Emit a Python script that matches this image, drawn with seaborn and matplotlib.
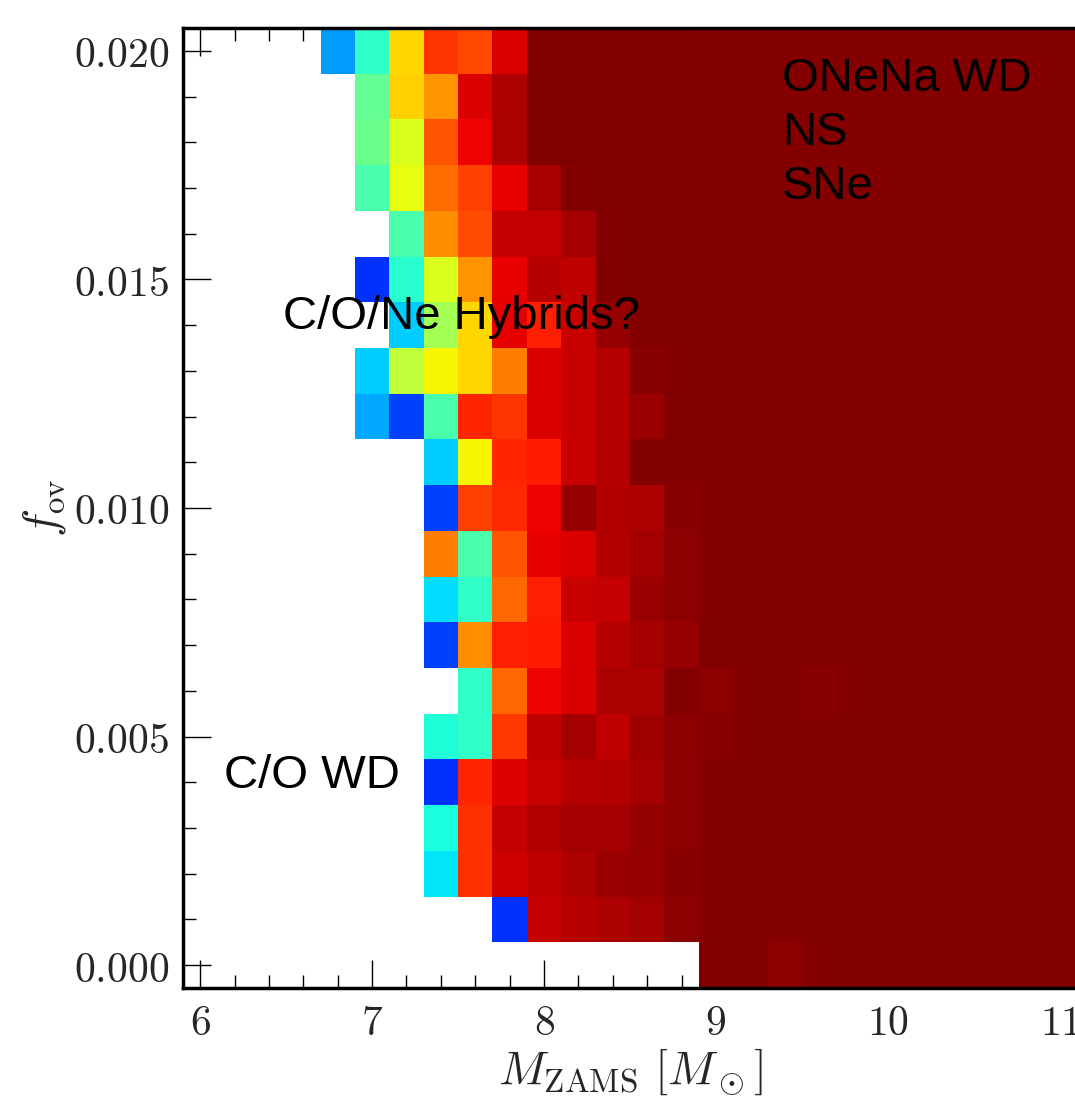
import numpy as np
import pandas as pd
import matplotlib
matplotlib.use("Agg")
import matplotlib.pyplot as plt
from matplotlib.ticker import FixedLocator, FixedFormatter
import seaborn as sns

N = np.nan

# Initial masses (cell centres) and overshoot parameters (top row first)
masses = [6.0, 6.2, 6.4, 6.6, 6.8, 7.0, 7.2, 7.4, 7.6, 7.8, 8.0, 8.2, 8.4,
          8.6, 8.8, 9.0, 9.2, 9.4, 9.6, 9.8, 10.0, 10.2, 10.4, 10.6, 10.8, 11.0]
f_ov = [0.020, 0.019, 0.018, 0.017, 0.016, 0.015, 0.014, 0.013, 0.012, 0.011,
        0.010, 0.009, 0.008, 0.007, 0.006, 0.005, 0.004, 0.003, 0.002, 0.001,
        0.000]

# Grid values per overshoot row (NaN = no model / C/O white dwarf)
row_020 = [N, N, N, N, 0.28, 0.41, 0.68, 0.855, 0.835, 0.92, 1.0, 1.0, 1.0, 0.998, 0.997,
           0.995, 0.995, 0.995, 0.995, 0.995, 0.995, 0.995, 0.995, 0.995, 0.995, 0.995]
row_019 = [N, N, N, N, N, 0.47, 0.69, 0.75, 0.92, 0.96, 1.0, 1.0, 1.0, 0.998, 0.995,
           0.995, 0.995, 0.995, 0.995, 0.995, 0.995, 0.995, 0.995, 0.995, 0.995, 0.995]
row_018 = [N, N, N, N, N, 0.48, 0.615, 0.82, 0.905, 0.96, 1.0, 1.0, 0.998, 0.995, 0.995,
           0.995, 0.995, 0.995, 0.995, 0.995, 0.995, 0.995, 0.995, 0.995, 0.995, 0.995]
row_017 = [N, N, N, N, N, 0.44, 0.63, 0.795, 0.84, 0.907, 0.963, 0.993, 0.995, 0.995, 0.995,
           0.995, 0.995, 0.995, 0.995, 0.995, 0.995, 0.995, 0.995, 0.995, 0.995, 0.995]
row_016 = [N, N, N, N, N, N, 0.44, 0.76, 0.83, 0.94, 0.94, 0.965, 0.993, 0.995, 0.995,
           0.995, 0.995, 0.995, 0.995, 0.995, 0.995, 0.995, 0.995, 0.995, 0.995, 0.995]
row_015 = [N, N, N, N, N, 0.175, 0.40, 0.615, 0.75, 0.91, 0.95, 0.945, 0.993, 0.995, 0.995,
           0.995, 0.995, 0.995, 0.995, 0.995, 0.995, 0.995, 0.995, 0.995, 0.995, 0.995]
row_014 = [N, N, N, N, N, N, 0.325, 0.55, 0.68, 0.91, 0.875, 0.934, 0.978, 0.995, 0.995,
           0.995, 0.995, 0.995, 0.995, 0.995, 0.995, 0.995, 0.995, 0.995, 0.995, 0.995]
row_013 = [N, N, N, N, N, 0.325, 0.58, 0.65, 0.68, 0.775, 0.92, 0.934, 0.95, 0.99, 0.995,
           0.995, 0.995, 0.995, 0.995, 0.995, 0.995, 0.995, 0.995, 0.995, 0.995, 0.995]
row_012 = [N, N, N, N, N, 0.29, 0.19, 0.44, 0.87, 0.855, 0.92, 0.934, 0.95, 0.974, 0.995,
           0.995, 0.995, 0.995, 0.995, 0.995, 0.995, 0.995, 0.995, 0.995, 0.995, 0.995]
row_011 = [N, N, N, N, N, N, N, 0.325, 0.65, 0.87, 0.88, 0.934, 0.95, 0.993, 0.995,
           0.995, 0.995, 0.995, 0.995, 0.995, 0.995, 0.995, 0.995, 0.995, 0.995, 0.995]
row_010 = [N, N, N, N, N, N, N, 0.19, 0.84, 0.865, 0.905, 0.98, 0.955, 0.96, 0.99,
           0.995, 0.995, 0.995, 0.995, 0.995, 0.995, 0.995, 0.995, 0.995, 0.995, 0.995]
row_009 = [N, N, N, N, N, N, N, 0.775, 0.44, 0.82, 0.907, 0.92, 0.955, 0.967, 0.985,
           0.995, 0.995, 0.995, 0.995, 0.995, 0.995, 0.995, 0.995, 0.995, 0.995, 0.995]
row_008 = [N, N, N, N, N, N, N, 0.34, 0.41, 0.80, 0.875, 0.934, 0.94, 0.974, 0.985,
           0.995, 0.995, 0.995, 0.995, 0.995, 0.995, 0.995, 0.995, 0.995, 0.995, 0.995]
row_007 = [N, N, N, N, N, N, N, 0.19, 0.76, 0.875, 0.88, 0.92, 0.95, 0.967, 0.978,
           0.995, 0.995, 0.995, 0.995, 0.995, 0.995, 0.995, 0.995, 0.995, 0.995, 0.995]
row_006 = [N, N, N, N, N, N, N, N, 0.41, 0.80, 0.905, 0.92, 0.96, 0.96, 0.993,
           0.988, 0.995, 0.995, 0.989, 0.995, 0.995, 0.995, 0.995, 0.995, 0.995, 0.995]
row_005 = [N, N, N, N, N, N, N, 0.39, 0.41, 0.85, 0.945, 0.967, 0.945, 0.972, 0.985,
           0.99, 0.995, 0.995, 0.995, 0.995, 0.995, 0.995, 0.995, 0.995, 0.995, 0.995]
row_004 = [N, N, N, N, N, N, N, 0.175, 0.87, 0.917, 0.934, 0.95, 0.956, 0.967, 0.985,
           0.995, 0.995, 0.995, 0.995, 0.995, 0.995, 0.995, 0.995, 0.995, 0.995, 0.995]
row_003 = [N, N, N, N, N, N, N, 0.38, 0.856, 0.94, 0.956, 0.967, 0.967, 0.982, 0.988,
           0.995, 0.995, 0.995, 0.995, 0.995, 0.995, 0.995, 0.995, 0.995, 0.995, 0.995]
row_002 = [N, N, N, N, N, N, N, 0.35, 0.856, 0.93, 0.945, 0.96, 0.974, 0.978, 0.99,
           0.995, 0.995, 0.995, 0.995, 0.995, 0.995, 0.995, 0.995, 0.995, 0.995, 0.995]
row_001 = [N, N, N, N, N, N, N, N, N, 0.175, 0.94, 0.95, 0.96, 0.967, 0.985,
           0.993, 0.995, 0.995, 0.995, 0.995, 0.995, 0.995, 0.995, 0.995, 0.995, 0.995]
row_000 = [N, N, N, N, N, N, N, N, N, N, N, N, N, N, N,
           0.995, 0.995, 0.988, 0.995, 0.995, 0.995, 0.995, 0.995, 0.995, 0.995, 0.995]

rows = [row_020, row_019, row_018, row_017, row_016, row_015, row_014,
        row_013, row_012, row_011, row_010, row_009, row_008, row_007,
        row_006, row_005, row_004, row_003, row_002, row_001, row_000]

x_major = [6, 7, 8, 9, 10, 11]
x_major_labels = ["6", "7", "8", "9", "10", "11"]
y_major = [0.000, 0.005, 0.010, 0.015, 0.020]
y_major_labels = ["0.000", "0.005", "0.010", "0.015", "0.020"]

grid = pd.DataFrame(rows, index=f_ov, columns=masses)

sns.set_style("white")
plt.rcParams["mathtext.fontset"] = "cm"
plt.rcParams["font.family"] = ["DejaVu Sans"]

W, H = 1075, 1096
fig = plt.figure(figsize=(W / 100, H / 100), dpi=100)
ax = fig.add_axes([183 / W, 108 / H, 894 / W, 960 / H])

sns.heatmap(grid, cmap="jet", vmin=0.0, vmax=1.0, cbar=False, ax=ax,
            xticklabels=False, yticklabels=False)

# map physical values onto heatmap cell coordinates
dm = masses[1] - masses[0]
df_ = f_ov[0] - f_ov[1]
def xpos(m):
    return (m - masses[0]) / dm + 0.5
def ypos(f):
    return (f_ov[0] - f) / df_ + 0.5

ax.xaxis.set_major_locator(FixedLocator([xpos(m) for m in x_major]))
ax.xaxis.set_major_formatter(FixedFormatter([f"${s}$" for s in x_major_labels]))
ax.xaxis.set_minor_locator(FixedLocator([xpos(m) for m in masses]))
ax.yaxis.set_major_locator(FixedLocator([ypos(f) for f in y_major]))
ax.yaxis.set_major_formatter(FixedFormatter([f"${s}$" for s in y_major_labels]))
ax.yaxis.set_minor_locator(FixedLocator([ypos(f) for f in f_ov]))

ax.tick_params(which="both", direction="in", top=True, right=True,
               bottom=True, left=True, color="black", width=1.0)
ax.tick_params(which="major", length=20, labelsize=30, pad=10)
ax.tick_params(which="minor", length=9.5)
plt.setp(ax.get_yticklabels(), rotation=0)
plt.setp(ax.get_xticklabels(), rotation=0)

for sp in ax.spines.values():
    sp.set_visible(True)
    sp.set_color("black")
    sp.set_linewidth(2.5)

ax.set_xlabel(r"$M_{\rm ZAMS}\ [M_\odot]$", fontsize=34, labelpad=2)
ax.set_ylabel(r"$f_{\rm ov}$", fontsize=34, labelpad=4)

txt = dict(transform=ax.transAxes, fontsize=34, family=["Liberation Sans"],
           color="black")
ax.text(0.670, 0.970, "ONeNa WD\nNS\nSNe", va="top", ha="left",
        linespacing=1.3, **txt)
ax.text(0.112, 0.686, "C/O/Ne Hybrids?", va="baseline", ha="left", **txt)
ax.text(0.046, 0.208, "C/O WD", va="baseline", ha="left", **txt)

fig.savefig("out.png", dpi=100)
